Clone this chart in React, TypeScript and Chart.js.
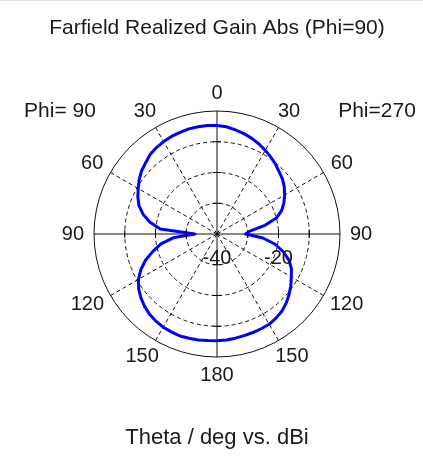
import React, { useEffect, useRef } from 'react';
import { Chart, registerables } from 'chart.js';

Chart.register(...registerables);

const TITLE = 'Farfield Realized Gain Abs (Phi=90)';
const AXIS_TITLE = 'Theta / deg vs. dBi';
const PHI_LEFT = 'Phi= 90';
const PHI_RIGHT = 'Phi=270';

// theta samples (deg) for each half-plane
const THETA = [
  0, 5, 10, 15, 20, 25, 30, 35, 40, 45, 50, 55, 60, 65, 70, 75, 80, 85, 90,
  95, 100, 105, 110, 115, 120, 125, 130, 135, 140, 145, 150, 155, 160, 165, 170, 175, 180,
];

// realized gain (dBi), right half (Phi=270)
const GAIN_PHI270 = [
  -4.7, -5.0, -5.6, -6.2, -6.9, -7.7, -8.6, -9.5, -10.4, -11.4, -12.2, -13.3, -14.6, -16.0, -17.6, -20.0, -24.4, -29.3, -30.7,
  -25.0, -20.8, -17.7, -15.1, -13.3, -12.1, -10.7, -9.4, -8.2, -7.2, -6.6, -6.1, -6.0, -5.9, -5.8, -5.6, -5.4, -5.3,
];

// realized gain (dBi), left half (Phi=90)
const GAIN_PHI90 = [
  -4.7, -4.6, -4.6, -4.6, -4.8, -5.0, -5.3, -5.7, -6.2, -7.2, -8.0, -9.1, -10.4, -11.6, -13.0, -15.1, -17.9, -21.5, -32.8,
  -25.7, -21.5, -18.5, -15.3, -12.7, -10.5, -8.9, -7.7, -6.7, -5.9, -5.4, -5.0, -4.9, -4.7, -4.9, -5.0, -5.2, -5.3,
];

const R_MIN = -40;
const R_MAX = 0;
const R_STEP = 10;
const R_LABELS = [-40, -20];
const ANGLE_LABEL_STEP = 30;

const FONT = "'Liberation Sans', Arial, sans-serif";

const App = () => {
  const canvasRef = useRef<HTMLCanvasElement | null>(null);

  useEffect(() => {
    const canvas = canvasRef.current;
    if (!canvas) return;

    const n = THETA.length; // 37
    const total = (n - 1) * 2; // 72
    const labels: number[] = [];
    const values: number[] = [];
    for (let i = 0; i < total; i++) {
      const k = i < n ? i : total - i;
      labels.push(THETA[k]);
      values.push(i < n ? GAIN_PHI270[k] : GAIN_PHI90[k]);
    }
    const step = THETA[1] - THETA[0];
    const labelEvery = ANGLE_LABEL_STEP / step;
    const axisEvery = 90 / step;

    const overlay = {
      id: 'cstOverlay',
      afterDraw(chart: any) {
        const ctx = chart.ctx;
        const s = chart.scales.r;
        ctx.save();
        // tick marks on main axes
        ctx.strokeStyle = '#000';
        ctx.lineWidth = 1;
        ctx.setLineDash([]);
        for (let i = 0; i < total; i += axisEvery) {
          for (let v = R_MIN + R_STEP; v < R_MAX; v += R_STEP) {
            const p = s.getPointPositionForValue(i, v);
            ctx.beginPath();
            if ((i / axisEvery) % 2 === 0) {
              ctx.moveTo(p.x - 4, p.y);
              ctx.lineTo(p.x + 4, p.y);
            } else {
              ctx.moveTo(p.x, p.y - 4);
              ctx.lineTo(p.x, p.y + 4);
            }
            ctx.stroke();
          }
        }
        // angle labels
        ctx.fillStyle = '#1a1a1a';
        ctx.font = `20px ${FONT}`;
        ctx.textAlign = 'center';
        ctx.textBaseline = 'middle';
        for (let i = 0; i < total; i += labelEvery) {
          const txt = String(labels[i]);
          const p = s.getPointPosition(i, s.drawingArea + 10);
          const a = (i / total) * Math.PI * 2;
          const w = ctx.measureText(txt).width;
          const h = 16;
          ctx.fillText(txt, p.x + Math.sin(a) * w / 2, p.y - Math.cos(a) * h / 2);
        }
        // radial value labels
        for (const v of R_LABELS) {
          const p = s.getPointPositionForValue(total / 4, v);
          ctx.fillText(String(v), p.x, p.y + 24);
        }
        // phi labels
        ctx.font = `21px ${FONT}`;
        ctx.fillText(PHI_LEFT, s.xCenter - 157, s.yCenter - s.drawingArea);
        ctx.fillText(PHI_RIGHT, s.xCenter + 160, s.yCenter - s.drawingArea);
        ctx.restore();
      },
    };

    const chart = new Chart(canvas, {
      type: 'radar',
      data: {
        labels,
        datasets: [
          {
            data: values,
            borderColor: '#0000ff',
            backgroundColor: 'rgba(0,0,0,0)',
            borderWidth: 3,
            pointRadius: 0,
            fill: false,
            tension: 0,
            borderJoinStyle: 'round',
          },
        ],
      },
      options: {
        responsive: false,
        animation: false,
        events: [],
        layout: { padding: 0 },
        plugins: {
          legend: { display: false },
          tooltip: { enabled: false },
          title: {
            display: true,
            text: TITLE,
            color: '#1a1a1a',
            font: { family: FONT, size: 21, weight: 'normal', lineHeight: 1.2 },
            padding: { top: 15, bottom: 69.8 },
          },
          subtitle: {
            display: true,
            position: 'bottom',
            text: AXIS_TITLE,
            color: '#1a1a1a',
            font: { family: FONT, size: 22, weight: 'normal', lineHeight: 1.2 },
            padding: { top: 67.6, bottom: 8 },
          },
        },
        scales: {
          r: {
            min: R_MIN,
            max: R_MAX,
            ticks: { display: false, stepSize: R_STEP },
            pointLabels: { display: false },
            grid: { circular: true, color: '#111', lineWidth: 1 },
            border: { dash: (c: any) => (c.tick && c.tick.value === R_MAX ? [] : [4, 3]) },
            angleLines: {
              display: true,
              color: '#111',
              lineWidth: (c: any) => (c.index % labelEvery === 0 ? 1 : 0),
              borderDash: (c: any) => (c.index % axisEvery === 0 ? [] : [4, 3]),
            },
          },
        },
      },
      plugins: [overlay],
    } as any);

    return () => chart.destroy();
  }, []);

  return (
    <div style={{ position: 'fixed', left: 0, top: 0, width: 423, height: 459, overflow: 'hidden', background: '#fff', borderTop: '1px solid #e4e4e4', boxSizing: 'border-box' }}>
      <canvas ref={canvasRef} width={434} height={458} style={{ display: 'block' }} />
    </div>
  );
};

export default App;
